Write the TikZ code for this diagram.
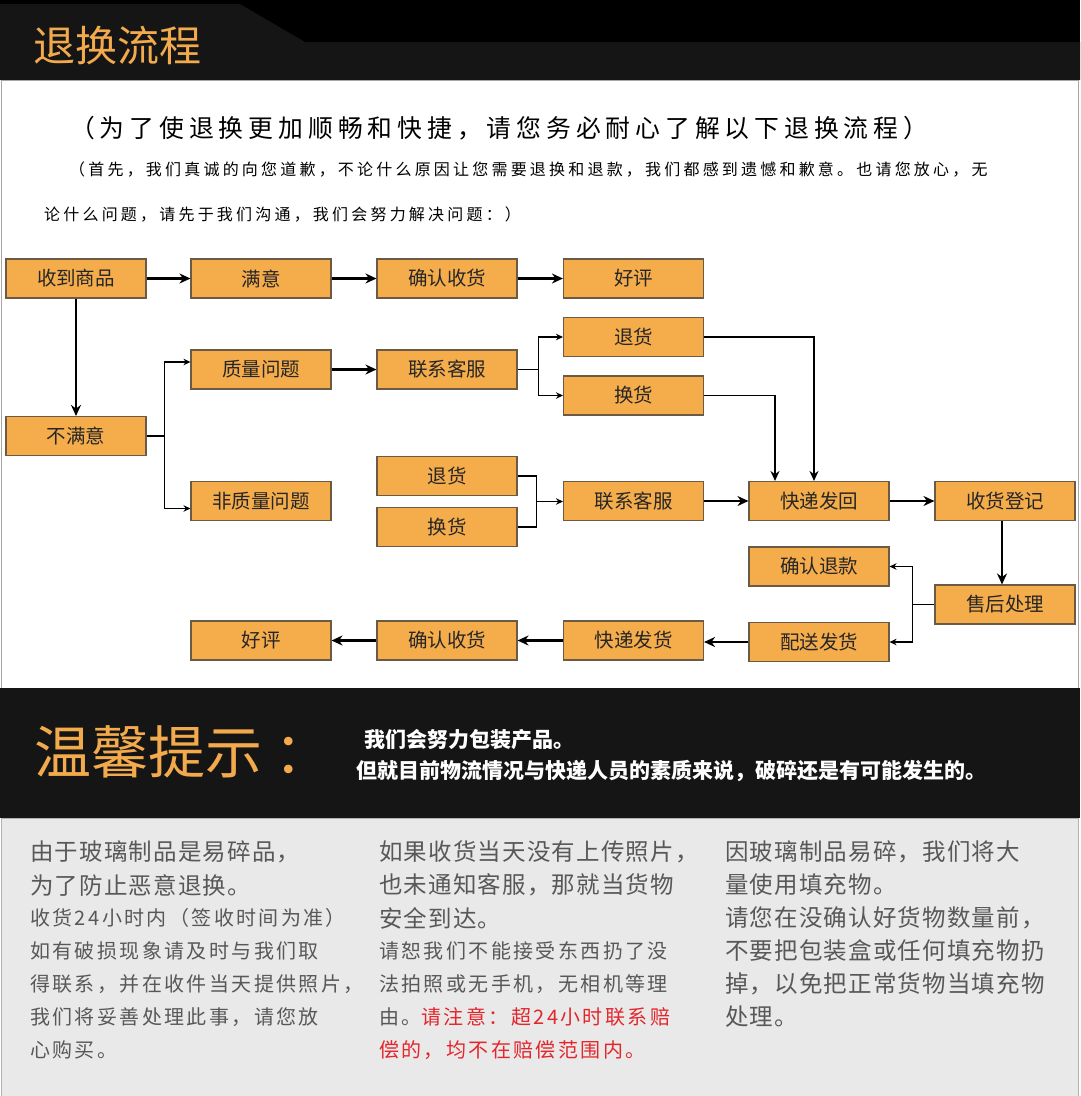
\documentclass[tikz,border=0pt]{standalone}
\usepackage{fontspec}
\setmainfont{Noto Sans CJK SC}
\newfontfamily\widecjk{Noto Sans CJK SC}[LetterSpace=20]
\newfontfamily\bigcjk{Noto Sans CJK SC}[LetterSpace=5]
\newfontfamily\smallcjk{Noto Sans CJK SC}[LetterSpace=12]
\usetikzlibrary{arrows.meta,calc}
\tikzset {>=Stealth}
\newcommand*{\fs}[1]{\fontsize{#1}{#1}\selectfont}
\definecolor{boxfill}{HTML}{F5AC4B}
\definecolor{boxline}{HTML}{6B5B45}
\definecolor{titleor}{HTML}{F2AA4C}
\definecolor{band}{HTML}{151515}
\definecolor{panel}{HTML}{E9E9E9}
\definecolor{note}{HTML}{585858}
\definecolor{warn}{HTML}{E3262C}

\begin{document}
\begin{tikzpicture}[x=1pt,y=-1pt,
  flowbox/.style={draw=boxline,fill=boxfill,line width=1.1pt,minimum width=140pt,
    minimum height=39pt,inner sep=0pt,text=black!85,font=\fs{19.5}},
  main/.style={line width=2.2pt,-{Stealth[length=11pt,width=10pt]}},
  back/.style={line width=1.9pt,-{Stealth[length=10pt,width=9pt]}},
  fork/.style={line width=1.3pt},
  forkto/.style={fork,-{Stealth[length=7pt,width=6.5pt]}},
  line/.style={anchor=west,inner sep=0pt}]
\useasboundingbox (0,0) rectangle (1080,1096);
% header
\fill[black] (0,0) rectangle (1080,80);
\fill[band] (0,4) -- (240,4) -- (305,42) -- (1080,42) -- (1080,80) -- (0,80) -- cycle;
\node[line,text=titleor,font=\fs{42}] (title) at (33,46) {退换流程};
% flow panel
\filldraw[fill=white,draw=gray!70,line width=1pt] (1.5,80) rectangle (1078.5,688);
\node[line,font=\widecjk\fs{24.8}] (introA) at (70,128) {（为了使退换更加顺畅和快捷，请您务必耐心了解以下退换流程）};
\node[line,font=\widecjk\fs{16}] (introB) at (69,170) {（首先，我们真诚的向您道歉，不论什么原因让您需要退换和退款，我们都感到遗憾和歉意。也请您放心，无};
\node[line,font=\widecjk\fs{16}] (introC) at (44,215) {论什么问题，请先于我们沟通，我们会努力解决问题：）};

\node[flowbox] (recv) at (76,278.5) {收到商品};
\node[flowbox] (happy) at (261,278.5) {满意};
\node[flowbox] (okA) at (447,278.5) {确认收货};
\node[flowbox] (praiseA) at (633.5,278.5) {好评};
\node[flowbox] (unhappy) at (76,436) {不满意};
\node[flowbox] (qual) at (261,369.5) {质量问题};
\node[flowbox] (nonqual) at (261,501) {非质量问题};
\node[flowbox] (svcA) at (447,369.5) {联系客服};
\node[flowbox] (retA) at (633.5,337) {退货};
\node[flowbox] (excA) at (633.5,395.5) {换货};
\node[flowbox] (retB) at (447,476) {退货};
\node[flowbox] (excB) at (447,527) {换货};
\node[flowbox] (svcB) at (633.5,501) {联系客服};
\node[flowbox] (sendback) at (819,501) {快递发回};
\node[flowbox] (check) at (1005,501) {收货登记};
\node[flowbox] (refund) at (819,566.5) {确认退款};
\node[flowbox] (after) at (1005,604.5) {售后处理};
\node[flowbox] (deliver) at (819,642) {配送发货};
\node[flowbox] (express) at (633.5,640.5) {快递发货};
\node[flowbox] (okB) at (447,640.5) {确认收货};
\node[flowbox] (praiseB) at (261,640.5) {好评};

\draw[main] (recv) -- (happy);
\draw[main] (happy) -- (okA);
\draw[main] (okA) -- (praiseA);
\draw[main] (recv) -- (unhappy);
\draw[main] (qual) -- (svcA);
\draw[main] (svcB) -- (sendback);
\draw[main] (sendback) -- (check);
\draw[main] ([xshift=-3pt]check.south) -- ([xshift=-3pt]after.north);
\draw[main] (deliver.west) -- (deliver.west -| express.east);
\draw[main] (express) -- (okB);
\draw[main] (okB) -- (praiseB);

\draw[fork] (unhappy.east) -- ++(18,0) coordinate (forkA);
\draw[forkto] (forkA) |- ([yshift=7.5pt]qual.west);
\draw[forkto] (forkA) |- ([yshift=-7.5pt]nonqual.west);
\draw[fork] (svcA.east) -- ++(21,0) coordinate (forkB);
\draw[forkto] (forkB) |- (retA.west);
\draw[forkto] (forkB) |- (excA.west);
\draw[back] (retA.east) -| ([xshift=-5pt]sendback.north);
\draw[back] (excA.east) -| ([xshift=-44pt]sendback.north);
\coordinate (forkC) at ($(retB.east)!.5!(excB.east)+(19,0)$);
\draw[fork] (retB.east) -| (forkC) |- (excB.east);
\draw[forkto] (forkC) -- (forkC -| svcB.west);
\draw[fork] (after.west) -- ++(-22,0) coordinate (forkD);
\draw[forkto] (forkD) |- (refund.east);
\draw[forkto] (forkD) |- (deliver.east);

% tips band
\fill[band] (0,688) rectangle (1080,818);
\node[line,text=titleor,font=\fs{57}] (tips) at (34,752) {温馨提示\kern12pt：};
\node[line,text=white,font=\bfseries\fs{21}] (tipA) at (364,740) {我们会努力包装产品。};
\node[line,text=white,font=\bfseries\fs{21}] (tipB) at (356,771) {但就目前物流情况与快递人员的素质来说，破碎还是有可能发生的。};

% notes
\filldraw[fill=panel,draw=gray!60,line width=1pt] (1.5,818) rectangle (1078.5,1097);
\foreach \t [count=\i] in {由于玻璃制品是易碎品，,为了防止恶意退换。}
  \node[line,text=note,font=\bigcjk\fs{23.5}] (noteA\i) at (30,819+33*\i) {\t};
\foreach \t [count=\i from 3] in {收货24小时内（签收时间为准）,如有破损现象请及时与我们取,
    得联系，并在收件当天提供照片，,我们将妥善处理此事，请您放,心购买。}
  \node[line,text=note,font=\smallcjk\fs{20}] (noteA\i) at (30,819+33*\i) {\t};
\foreach \t [count=\i] in {如果收货当天没有上传照片，,也未通知客服，那就当货物,安全到达。}
  \node[line,text=note,font=\bigcjk\fs{23.5}] (noteB\i) at (379,819+33*\i) {\t};
\foreach \t [count=\i from 4] in {请恕我们不能接受东西扔了没,法拍照或无手机，无相机等理}
  \node[line,text=note,font=\smallcjk\fs{20}] (noteB\i) at (379,819+33*\i) {\t};
\node[line,text=note,font=\smallcjk\fs{20}] (noteB6) at (379,1017) {由。\textcolor{warn}{请注意：超24小时联系赔}};
\node[line,text=warn,font=\smallcjk\fs{20}] (noteB7) at (379,1050) {偿的，均不在赔偿范围内。};
\foreach \t [count=\i] in {因玻璃制品易碎，我们将大,量使用填充物。,请您在没确认好货物数量前，,
    不要把包装盒或任何填充物扔,掉，以免把正常货物当填充物,处理。}
  \node[line,text=note,font=\bigcjk\fs{23.5}] (noteC\i) at (725,819+33*\i) {\t};
\end{tikzpicture}
\end{document}
